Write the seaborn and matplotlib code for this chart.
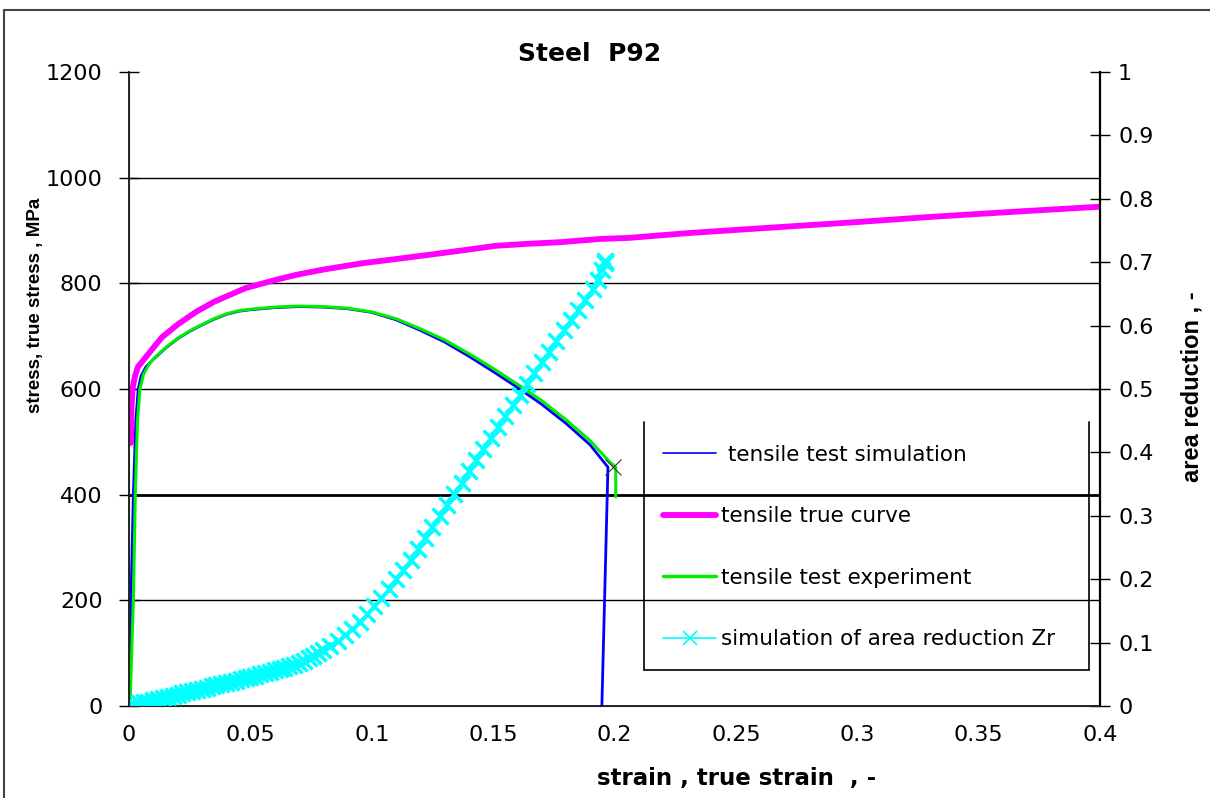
import numpy as np
import pandas as pd
import matplotlib
matplotlib.use("Agg")
import matplotlib.pyplot as plt
import seaborn as sns
from matplotlib.lines import Line2D

# tensile test simulation (blue)
sim_strain = [0.0, 0.0008, 0.0018, 0.0028, 0.0038, 0.005, 0.007, 0.010, 0.015, 0.020, 0.025,
              0.030, 0.035, 0.040, 0.045, 0.050, 0.060, 0.070, 0.080, 0.090, 0.100, 0.110,
              0.120, 0.130, 0.140, 0.150, 0.160, 0.170, 0.180, 0.190, 0.1973, 0.1948]
sim_stress = [0, 200, 400, 540, 600, 625, 642, 656, 677, 695, 709,
              721, 732, 741, 747, 750, 754, 756, 755, 752, 745, 731,
              711, 689, 662, 633, 603, 571, 535, 494, 452, 0]

# tensile true curve (magenta)
true_strain = [0.0008, 0.001, 0.0015, 0.0025, 0.0037, 0.006, 0.010, 0.0136, 0.020, 0.0276,
               0.035, 0.048, 0.060, 0.0688, 0.080, 0.096, 0.110, 0.1236, 0.140, 0.151,
               0.165, 0.178, 0.194, 0.206, 0.230, 0.263, 0.300, 0.331, 0.370, 0.400]
true_stress = [498, 560, 602, 625, 642, 655, 678, 698, 722, 746,
               765, 791, 806, 816, 826, 838, 846, 854, 864, 871,
               875, 878, 884, 886, 895, 905, 916, 926, 937, 945]

# tensile test experiment (green)
exp_strain = [0.0004, 0.0018, 0.0026, 0.0035, 0.0045, 0.006, 0.008, 0.010, 0.015, 0.020,
              0.025, 0.030, 0.035, 0.040, 0.045, 0.050, 0.060, 0.070, 0.080, 0.090,
              0.100, 0.110, 0.120, 0.130, 0.140, 0.150, 0.160, 0.170, 0.180, 0.190,
              0.198, 0.2005, 0.2005]
exp_stress = [0, 200, 400, 540, 600, 628, 645, 657, 678, 696,
              710, 722, 733, 742, 748, 751, 755, 757, 756, 753,
              746, 733, 714, 693, 667, 639, 609, 578, 542, 502,
              462, 452, 396]

# simulation of area reduction Zr (cyan, right axis)
zr_strain = [0.000, 0.002, 0.004, 0.006, 0.008, 0.010, 0.012, 0.014, 0.016, 0.018,
             0.020, 0.022, 0.024, 0.026, 0.028, 0.030, 0.032, 0.034, 0.036, 0.038,
             0.040, 0.042, 0.044, 0.046, 0.048, 0.050, 0.052, 0.054, 0.056, 0.058,
             0.060, 0.062, 0.064, 0.066, 0.068, 0.070, 0.072, 0.074, 0.076, 0.078,
             0.080, 0.083, 0.086, 0.089, 0.092, 0.095, 0.098, 0.101, 0.104, 0.107,
             0.110, 0.113, 0.116, 0.119, 0.122, 0.125, 0.128, 0.131, 0.134, 0.137,
             0.140, 0.143, 0.146, 0.149, 0.152, 0.155, 0.158, 0.161, 0.164, 0.167,
             0.170, 0.173, 0.176, 0.179, 0.182, 0.185, 0.188, 0.191, 0.193, 0.195,
             0.196, 0.196]
zr_value = [0.000, 0.002, 0.004, 0.006, 0.007, 0.009, 0.011, 0.013, 0.014, 0.016,
            0.018, 0.020, 0.022, 0.024, 0.025, 0.027, 0.029, 0.031, 0.033, 0.035,
            0.037, 0.038, 0.040, 0.042, 0.044, 0.046, 0.048, 0.050, 0.052, 0.054,
            0.056, 0.058, 0.060, 0.063, 0.065, 0.068, 0.071, 0.075, 0.079, 0.083,
            0.088, 0.095, 0.103, 0.112, 0.122, 0.133, 0.145, 0.158, 0.171, 0.185,
            0.200, 0.215, 0.231, 0.248, 0.265, 0.282, 0.299, 0.317, 0.334, 0.352,
            0.370, 0.388, 0.405, 0.423, 0.440, 0.457, 0.474, 0.491, 0.508, 0.525,
            0.542, 0.559, 0.576, 0.593, 0.609, 0.625, 0.641, 0.658, 0.672, 0.688,
            0.699, 0.702]

x_ticks = [0, 0.05, 0.1, 0.15, 0.2, 0.25, 0.3, 0.35, 0.4]
x_labels = ["0", "0.05", "0.1", "0.15", "0.2", "0.25", "0.3", "0.35", "0.4"]
y_ticks = [0, 200, 400, 600, 800, 1000, 1200]
y2_ticks = [0, 0.1, 0.2, 0.3, 0.4, 0.5, 0.6, 0.7, 0.8, 0.9, 1.0]
y2_labels = ["0", "0.1", "0.2", "0.3", "0.4", "0.5", "0.6", "0.7", "0.8", "0.9", "1"]

sns.set_style("white")
plt.rcParams['font.family'] = ['DejaVu Sans']
plt.rcParams.update({"text.color": "black", "axes.labelcolor": "black",
                     "xtick.color": "black", "ytick.color": "black"})

fig = plt.figure(figsize=(12.1, 7.98), dpi=100)
ax = fig.add_axes([129 / 1210, 92 / 798, 971 / 1210, 634 / 798])

sim_df = pd.DataFrame({"strain": sim_strain, "stress": sim_stress})
true_df = pd.DataFrame({"strain": true_strain, "stress": true_stress})
exp_df = pd.DataFrame({"strain": exp_strain, "stress": exp_stress})
zr_df = pd.DataFrame({"strain": zr_strain, "zr": zr_value})

sns.lineplot(data=sim_df, x="strain", y="stress", ax=ax, color="#0000ff", lw=2,
             sort=False, estimator=None)
sns.lineplot(data=exp_df, x="strain", y="stress", ax=ax, color="#00ee00", lw=2.2,
             sort=False, estimator=None)
sns.lineplot(data=true_df, x="strain", y="stress", ax=ax, color="#ff00ff", lw=4.2,
             sort=False, estimator=None)
# end point of the simulation
ax.plot([sim_strain[-2] + 0.0022], [sim_stress[-2]], marker="x", color="#333333",
        markersize=11, mew=0.8, ls="none")

ax.set_xlim(0, 0.4)
ax.set_ylim(0, 1200)
ax.set_xticks(x_ticks)
ax.set_xticklabels(x_labels)
ax.set_yticks(y_ticks)
ax.tick_params(axis="y", direction="inout", length=14, width=1, labelsize=16, pad=12)
ax.tick_params(axis="x", direction="out", length=8, width=1, labelsize=16, pad=6)
for v in y_ticks[1:-1]:
    ax.axhline(v, color="black", lw=2 if v == 400 else 1, zorder=0.5)

ax.spines["top"].set_visible(False)
for side in ["left", "bottom", "right"]:
    ax.spines[side].set_color("black")
    ax.spines[side].set_linewidth(1.2)

ax.set_xlabel("strain , true strain  , -", fontsize=16.5, fontweight="bold")
ax.xaxis.set_label_coords((737 - 129) / 971, -(767 - 706) / 634)
ax.set_ylabel("stress, true stress , MPa", fontsize=13.5, fontweight="bold",
              family="Liberation Sans")
ax.yaxis.set_label_coords(-(129 - 44) / 971, (706 - 305) / 634)
ax.set_title("Steel  P92", fontsize=18, fontweight="bold", x=(590 - 129) / 971, pad=8)

ax2 = ax.twinx()
sns.lineplot(data=zr_df, x="strain", y="zr", ax=ax2, color="#00ffff", lw=1.5,
             marker="x", markersize=11, mew=2.5, mec="#00ffff", sort=False, estimator=None)
ax2.set_ylim(0, 1)
ax2.set_yticks(y2_ticks)
ax2.set_yticklabels(y2_labels)
ax2.tick_params(axis="y", direction="inout", length=14, width=1, labelsize=16, pad=6)
ax2.spines["top"].set_visible(False)
ax2.spines["right"].set_color("black")
ax2.spines["right"].set_linewidth(1.6)
ax2.set_ylabel("area reduction , -", fontsize=17, fontweight="bold",
               family="Liberation Sans")
ax2.yaxis.set_label_coords(1 + (1181 - 1100) / 971, (706 - 387) / 634)

handles = [
    Line2D([], [], color="#0000ff", lw=1.2),
    Line2D([], [], color="#ff00ff", lw=4.2),
    Line2D([], [], color="#00ee00", lw=2.5),
    Line2D([], [], color="#00ffff", lw=1.2, marker="x", markersize=10, mew=1.2),
]
labels = [" tensile test simulation", "tensile true curve", "tensile test experiment",
          "simulation of area reduction Zr"]
leg = ax2.legend(handles, labels, loc="upper left", bbox_to_anchor=(654 / 1210, 1 - 436 / 798),
                 bbox_transform=fig.transFigure, frameon=False, fontsize=15.5,
                 handlelength=2.5, handletextpad=0.2, labelspacing=1.93, borderaxespad=0)

# legend box (no top edge in the reference)
for xs, ys in [([644, 644], [422, 670]), ([644, 1089], [670, 670]), ([1089, 1089], [422, 670])]:
    fig.add_artist(Line2D([x / 1210 for x in xs], [1 - y / 798 for y in ys], color="black", lw=1.2))

# outer frame of the picture: left and top edges only
fig.add_artist(Line2D([4 / 1210, 4 / 1210], [0, 1 - 10 / 798], color="#444444", lw=1.5))
fig.add_artist(Line2D([4 / 1210, 1], [1 - 10 / 798, 1 - 10 / 798], color="#444444", lw=1.5))

fig.savefig("out.png", dpi=100)
